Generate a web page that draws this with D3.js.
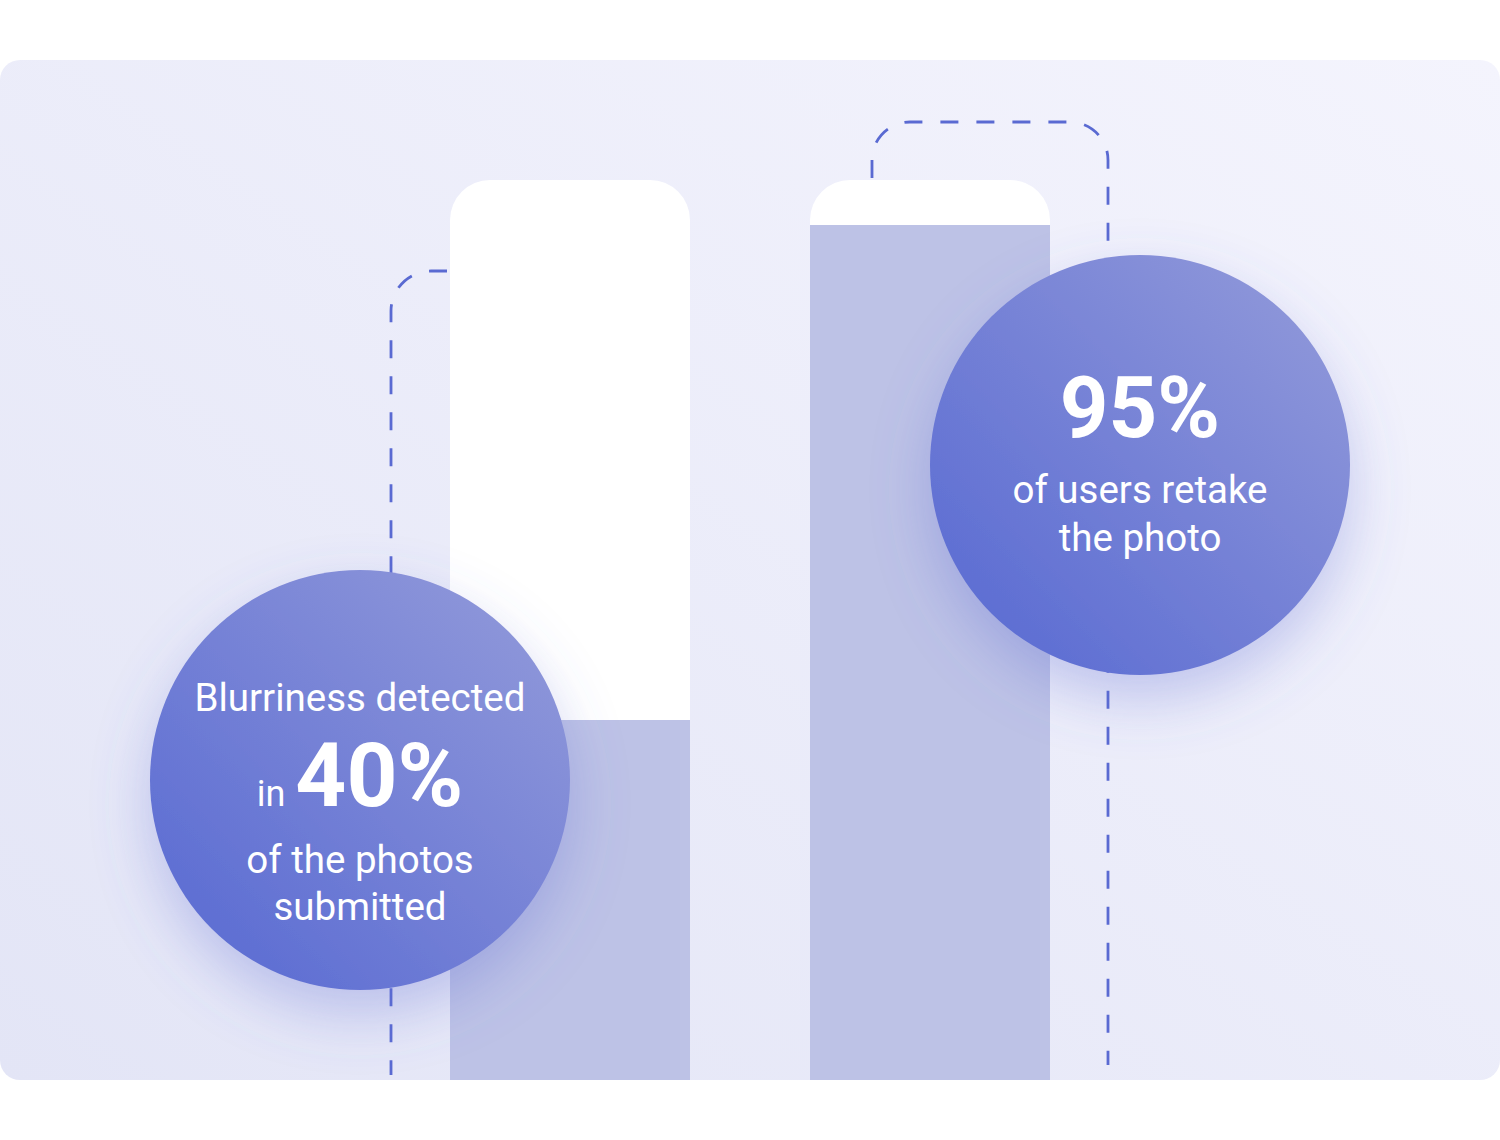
<!DOCTYPE html>
<html><head><meta charset="utf-8">
<script src="https://cdn.jsdelivr.net/npm/d3@7"></script>
<style>html,body{margin:0;padding:0;background:#fff;}svg{display:block;}</style>
</head><body>
<script>
const categories = ["Blurriness detected", "Users retake the photo"];
const values = [40, 95];
const bigLabels = ["40%", "95%"];
const yTicks = [0, 100];

const W = 1500, H = 1140;
const svg = d3.select("body").append("svg").attr("width", W).attr("height", H);
const defs = svg.append("defs");

const bg = defs.append("linearGradient").attr("id","bg").attr("x1","0").attr("y1","1").attr("x2","1").attr("y2","0");
bg.append("stop").attr("offset","0").attr("stop-color","#e3e5f6");
bg.append("stop").attr("offset","1").attr("stop-color","#f4f4fd");

const cg = defs.append("linearGradient").attr("id","cg").attr("x1","0.15").attr("y1","0.85").attr("x2","0.85").attr("y2","0.15");
cg.append("stop").attr("offset","0").attr("stop-color","#5f6fd3");
cg.append("stop").attr("offset","1").attr("stop-color","#8b94d9");

const sh = defs.append("filter").attr("id","sh").attr("x","-50%").attr("y","-50%").attr("width","200%").attr("height","200%");
sh.append("feDropShadow").attr("dx",0).attr("dy",24).attr("stdDeviation",28).attr("flood-color","#5d6cd0").attr("flood-opacity",0.32);

// panel
svg.append("rect").attr("x",0).attr("y",60).attr("width",1500).attr("height",1020).attr("rx",20).attr("fill","url(#bg)");

const x = d3.scaleBand().domain(categories).range([450, 1050]).paddingInner(1/3).paddingOuter(0);
const y = d3.scaleLinear().domain(d3.extent(yTicks)).range([1080, 180]);

const bw = x.bandwidth();
function trackPath(x0){
  const r = 40, top = y(100), bot = y(0);
  return `M${x0},${bot}V${top+r}A${r},${r} 0 0 1 ${x0+r},${top}H${x0+bw-r}A${r},${r} 0 0 1 ${x0+bw},${top+r}V${bot}Z`;
}
categories.forEach((c,i)=>{
  const x0 = x(c);
  defs.append("clipPath").attr("id","clip"+i).append("path").attr("d", trackPath(x0));
  svg.append("path").attr("d", trackPath(x0)).attr("fill","#ffffff");
  svg.append("rect").attr("clip-path",`url(#clip${i})`)
    .attr("x", x0).attr("y", y(values[i])).attr("width", bw).attr("height", y(0)-y(values[i]))
    .attr("fill","#bdc2e6");
});

// dashed connectors
const dash = {stroke:"#5a6ad2","stroke-width":2.8,fill:"none","stroke-dasharray":"18 18"};
function applyDash(s){ Object.entries(dash).forEach(([k,v])=>s.attr(k,v)); return s; }
{
  const x0 = x(categories[0]);
  const lx = 391, r = 40, ty = 271;
  applyDash(svg.append("path").attr("d", `M${x0-3},${ty}H${lx+r}A${r},${r} 0 0 0 ${lx},${ty+r}V1075`));
}
{
  const lx = 872, rx = 1108, r = 38, ty = 122;
  applyDash(svg.append("path").attr("d", `M${lx},${y(100)-2}V${ty+r}A${r},${r} 0 0 1 ${lx+r},${ty}H${rx-r}A${r},${r} 0 0 1 ${rx},${ty+r}V1065`));
}

// circles
const circles = [{cx:360, cy:780}, {cx:1140, cy:465}];
circles.forEach(c=>{
  svg.append("circle").attr("cx",c.cx).attr("cy",c.cy).attr("r",210).attr("fill","url(#cg)").attr("filter","url(#sh)");
});

const font = "Roboto, 'Noto Sans', sans-serif";
function txt(xp, yp, s, size, weight){
  return svg.append("text").attr("x",xp).attr("y",yp).attr("text-anchor","middle")
    .attr("font-family",font).attr("font-size",size).attr("font-weight",weight||400)
    .attr("fill","#ffffff").text(s);
}
// left circle text
txt(360, 711, "Blurriness detected", 38.5);
const t = svg.append("text").attr("x",360).attr("y",806).attr("text-anchor","middle").attr("font-family",font).attr("fill","#fff");
t.append("tspan").attr("font-size",36).text("in");
t.append("tspan").attr("font-size",89).attr("font-weight",700).attr("dx",10).text(bigLabels[0]);
txt(360, 873, "of the photos", 38.5);
txt(360, 920, "submitted", 38.5);
// right circle
txt(1140, 437, bigLabels[1], 85, 700);
txt(1140, 503, "of users retake", 38.5);
txt(1140, 551, "the photo", 38.5);
</script>
</body></html>
